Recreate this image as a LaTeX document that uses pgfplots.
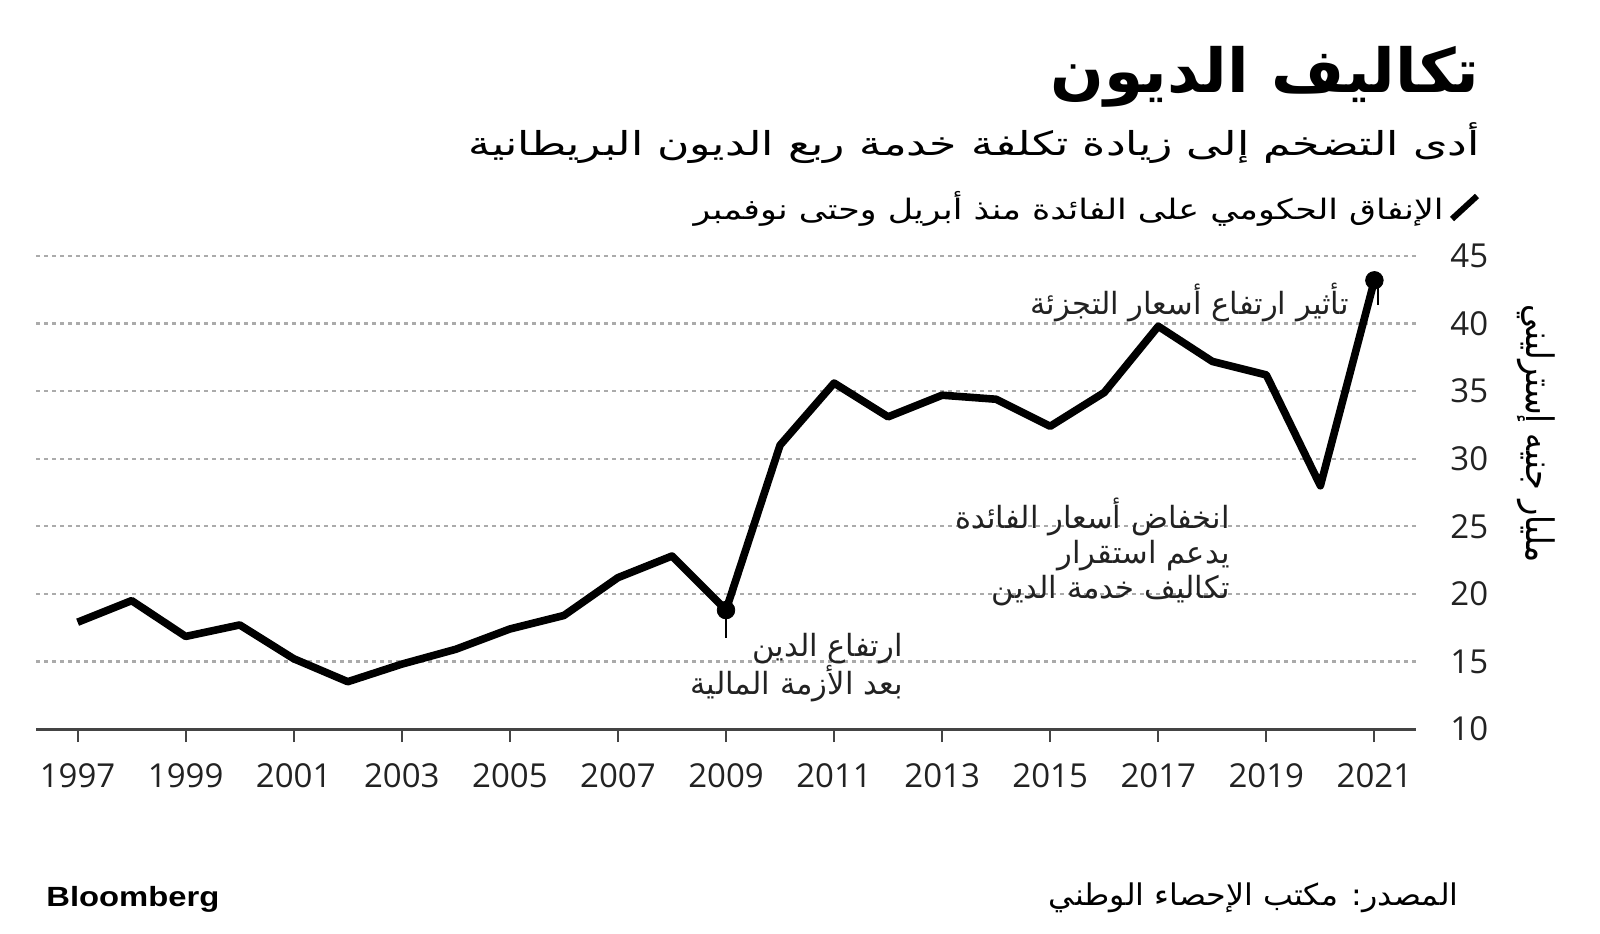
\documentclass[border=0pt]{standalone}
\usepackage{fontspec}
\usepackage{pgfplots}
\pgfplotsset{compat=1.18}
\setmainfont{Open Sans}
\newfontfamily\ar[Script=Arabic]{DejaVu Sans}
\newfontfamily\bb{Liberation Sans}
\TeXXeTstate=1
\definecolor{gridc}{HTML}{ABABAB}
\definecolor{axisc}{HTML}{444444}
\definecolor{txt}{HTML}{222222}

% UK government interest spending, April-November, bn GBP
\pgfplotstableread{
year  cost
1997  17.9
1998  19.5
1999  16.85
2000  17.7
2001  15.2
2002  13.5
2003  14.8
2004  15.9
2005  17.4
2006  18.4
2007  21.2
2008  22.8
2009  18.8
2010  31.0
2011  35.6
2012  33.1
2013  34.7
2014  34.4
2015  32.4
2016  34.9
2017  39.8
2018  37.2
2019  36.2
2020  28.0
2021  43.2
}\debt

\newcommand{\annot}{\ar\fontsize{15.3}{18}\selectfont}

\begin{document}
\begin{tikzpicture}
\begin{axis}[
  at={(18pt,102pt)}, anchor=south west,
  scale only axis, width=690pt, height=236.5pt,
  xmin=1996.23, xmax=2021.77, ymin=10, ymax=45,
  axis x line*=bottom, axis y line*=right,
  x axis line style={draw=axisc, line width=1.5pt, -},
  y axis line style={draw=none},
  xtick={1997,1999,...,2021},
  ytick={10,15,...,45},
  tick align=outside,
  major tick length=6.5pt,
  xtick style={draw=axisc, line width=1pt},
  ytick style={draw=none},
  ymajorgrids,
  grid style={draw=gridc, line width=1.2pt, dash pattern=on 2pt off 2pt},
  ticklabel style={font=\fontsize{16.5}{16.5}\selectfont, text=txt},
  xticklabel style={/pgf/number format/1000 sep=, anchor=north, inner sep=0pt, yshift=-10.5pt},
  yticklabel style={anchor=west, inner sep=0pt, xshift=10.5pt},
  /pgf/number format/assume math mode=true,
  clip=false,
]
\addplot[black, line width=3.8pt, line join=round] table[x=year, y=cost] {\debt};
\addplot[only marks, mark=*, mark size=4.4pt, black] coordinates {(2009,18.8) (2021,43.2)};
\draw[line width=1pt, black] (axis cs:2009,18.8) -- (axis cs:2009,16.7);
\draw[line width=1pt, black] (axis cs:2021.07,43) -- (axis cs:2021.07,41.4);
\end{axis}

% titles
\node[anchor=north east, inner sep=0pt] at (740pt,443.5pt)
  {\resizebox*{214.5pt}{30.5pt}{\ar\bfseries\beginR تكاليف الديون\endR}};
\node[anchor=north east, inner sep=0pt] at (740pt,405.5pt)
  {\resizebox*{505.5pt}{20.5pt}{\ar\beginR أدى التضخم إلى زيادة تكلفة خدمة ربع الديون البريطانية\endR}};
\draw[line width=3pt, black] (726pt,357pt) -- (738.5pt,368.5pt);
\node[anchor=north east, inner sep=0pt] at (722pt,371pt)
  {\resizebox*{375pt}{17.5pt}{\ar\beginR الإنفاق الحكومي على الفائدة منذ أبريل وحتى نوفمبر\endR}};

% y axis label
\node[rotate=-90, inner sep=0pt] at (768pt,249.5pt)
  {\resizebox*{129pt}{19pt}{\ar\beginR مليار جنيه إسترليني\endR}};

% annotations
\node[anchor=east, inner sep=0pt, text=txt, font=\annot] at (674.5pt,315pt) {\beginR تأثير ارتفاع أسعار التجزئة\endR};
\node[anchor=east, inner sep=0pt, text=txt, font=\annot] at (451.5pt,142pt) {\beginR ارتفاع الدين\endR};
\node[anchor=east, inner sep=0pt, text=txt, font=\annot] at (451.5pt,124.5pt) {\beginR بعد الأزمة المالية\endR};
\node[anchor=east, inner sep=0pt, text=txt, font=\annot] at (615pt,208pt) {\beginR انخفاض أسعار الفائدة\endR};
\node[anchor=east, inner sep=0pt, text=txt, font=\annot] at (615pt,188.5pt) {\beginR يدعم استقرار\endR};
\node[anchor=east, inner sep=0pt, text=txt, font=\annot] at (615pt,171pt) {\beginR تكاليف خدمة الدين\endR};

% footer
\node[anchor=south east, inner sep=0pt] at (729.5pt,10pt)
  {\resizebox*{205pt}{15pt}{\ar\beginR المصدر: مكتب الإحصاء الوطني\endR}};
\node[anchor=south west, inner sep=0pt] at (23pt,10pt)
  {\resizebox*{86.5pt}{13pt}{\bb\bfseries Bloomberg}};

\pgfresetboundingbox
\useasboundingbox (0,0) rectangle (800pt,466.5pt);
\end{tikzpicture}
\end{document}
